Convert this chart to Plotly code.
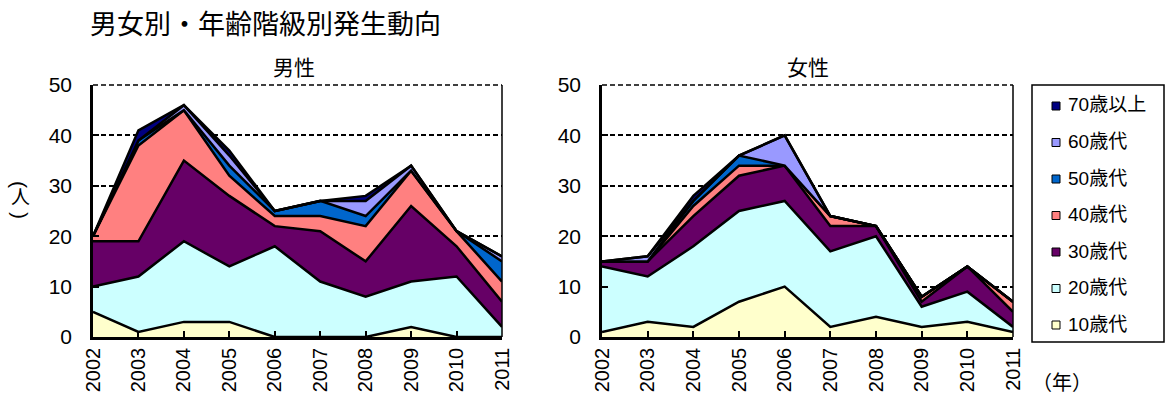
import plotly.graph_objects as go

years = ["2002", "2003", "2004", "2005", "2006", "2007", "2008", "2009", "2010", "2011"]
age_groups = ["10歳代", "20歳代", "30歳代", "40歳代", "50歳代", "60歳代", "70歳以上"]
colors = ["#FFFFCC", "#CCFFFF", "#660066", "#FF8080", "#0066CC", "#9999FF", "#000080"]

male_10s = [5, 1, 3, 3, 0, 0, 0, 2, 0, 0]
male_20s = [5, 11, 16, 11, 18, 11, 8, 9, 12, 2]
male_30s = [9, 7, 16, 14, 4, 10, 7, 15, 6, 5]
male_40s = [1, 19, 10, 4, 2, 3, 7, 7, 3, 4]
male_50s = [0, 1, 0, 2, 1, 3, 2, 0, 0, 4]
male_60s = [0, 0, 1, 2, 0, 0, 3, 1, 0, 1]
male_70s = [0, 2, 0, 1, 0, 0, 1, 0, 0, 0]

female_10s = [1, 3, 2, 7, 10, 2, 4, 2, 3, 1]
female_20s = [13, 9, 16, 18, 17, 15, 16, 4, 6, 1]
female_30s = [1, 3, 6, 7, 7, 5, 2, 1, 5, 3]
female_40s = [0, 0, 2, 2, 0, 2, 0, 1, 0, 2]
female_50s = [0, 0, 1, 2, 0, 0, 0, 0, 0, 0]
female_60s = [0, 1, 0, 0, 6, 0, 0, 0, 0, 0]
female_70s = [0, 0, 1, 0, 0, 0, 0, 0, 0, 0]

male = [male_10s, male_20s, male_30s, male_40s, male_50s, male_60s, male_70s]
female = [female_10s, female_20s, female_30s, female_40s, female_50s, female_60s, female_70s]

FONT = "Arial, Liberation Sans, Noto Sans CJK JP"
W, H = 1166, 398

fig = go.Figure()
for i, (name, col) in enumerate(zip(age_groups, colors)):
    fig.add_trace(go.Scatter(
        x=years, y=male[i], name=name, mode="lines", stackgroup="m",
        line=dict(color="black", width=2.5), fillcolor=col,
        showlegend=False, xaxis="x", yaxis="y", hoverinfo="x+y+name"))
    fig.add_trace(go.Scatter(
        x=years, y=female[i], name=name, mode="lines", stackgroup="f",
        line=dict(color="black", width=2.5), fillcolor=col,
        showlegend=False, xaxis="x2", yaxis="y2", hoverinfo="x+y+name"))

ydom = [(H - 337) / H, (H - 85) / H]

xcommon = dict(
    type="category", tickangle=-90, showgrid=False, range=[0, 9],
    showline=True, linecolor="black", linewidth=2.5, mirror=False,
    ticks="inside", ticklen=6, tickcolor="black", tickwidth=1.5,
    tickfont=dict(family=FONT, size=20, color="black"),
    ticklabelstandoff=0, automargin=False,
)
ycommon = dict(
    range=[0, 50], dtick=10, showgrid=True,
    gridcolor="black", griddash="5px,3px", gridwidth=1.5, zeroline=False,
    showline=True, linecolor="black", linewidth=2.5, mirror=False,
    ticks="inside", ticklen=6, tickcolor="black", tickwidth=1.5,
    tickfont=dict(family=FONT, size=21, color="black"),
    ticklabelstandoff=14, automargin=False,
)

shapes = []
for xr, yr in [("x domain", "y domain"), ("x2 domain", "y2 domain")]:
    shapes.append(dict(type="line", xref=xr, yref=yr, x0=1, x1=1, y0=0, y1=1,
                       line=dict(color="black", width=1.5)))
    shapes.append(dict(type="line", xref=xr, yref=yr, x0=0, x1=1, y0=1, y1=1,
                       line=dict(color="black", width=1.5, dash="5px,3px")))
shapes.append(dict(type="rect", xref="paper", yref="paper",
                   x0=1032 / W, x1=1164 / W, y0=(H - 342) / H, y1=(H - 85) / H,
                   line=dict(color="black", width=1.5), fillcolor="white"))

annotations = [
    dict(text="男女別・年齢階級別発生動向", x=88 / W, y=(H - 25) / H,
         xref="paper", yref="paper", xanchor="left", yanchor="middle",
         showarrow=False, font=dict(family=FONT, size=27)),
    dict(text="男性", x=294 / W, y=(H - 67) / H, xref="paper", yref="paper",
         xanchor="center", yanchor="middle", showarrow=False,
         font=dict(family=FONT, size=21)),
    dict(text="女性", x=808 / W, y=(H - 67) / H, xref="paper", yref="paper",
         xanchor="center", yanchor="middle", showarrow=False,
         font=dict(family=FONT, size=21)),
    dict(text="(", x=20 / W, y=(H - 184) / H, xref="paper", yref="paper",
         xanchor="center", yanchor="middle", showarrow=False, textangle=90,
         font=dict(family=FONT, size=21)),
    dict(text="人", x=20 / W, y=(H - 197) / H, xref="paper", yref="paper",
         xanchor="center", yanchor="middle", showarrow=False,
         font=dict(family=FONT, size=19)),
    dict(text=")", x=20 / W, y=(H - 215) / H, xref="paper", yref="paper",
         xanchor="center", yanchor="middle", showarrow=False, textangle=90,
         font=dict(family=FONT, size=21)),
    dict(text="（年）", x=1062 / W, y=(H - 383) / H, xref="paper", yref="paper",
         xanchor="center", yanchor="middle", showarrow=False,
         font=dict(family=FONT, size=20)),
]

for k, idx in enumerate(range(len(age_groups) - 1, -1, -1)):
    yc = 105 + k * 36.5
    shapes.append(dict(type="rect", xref="paper", yref="paper",
                       x0=1052 / W, x1=1060 / W, y0=(H - yc - 5) / H, y1=(H - yc + 3) / H,
                       line=dict(color="black", width=1), fillcolor=colors[idx]))
    annotations.append(dict(text=age_groups[idx], x=1066 / W, y=(H - yc) / H,
                            xref="paper", yref="paper", xanchor="left", yanchor="middle",
                            showarrow=False, font=dict(family=FONT, size=19)))

fig.update_layout(
    width=W, height=H,
    margin=dict(l=0, r=0, t=0, b=0),
    paper_bgcolor="white", plot_bgcolor="white",
    font=dict(family=FONT, color="black"),
    xaxis=dict(xcommon, domain=[93 / W, 502 / W], anchor="y"),
    yaxis=dict(ycommon, domain=ydom, anchor="x"),
    xaxis2=dict(xcommon, domain=[602 / W, 1013 / W], anchor="y2"),
    yaxis2=dict(ycommon, domain=ydom, anchor="x2"),
    showlegend=False,
    shapes=shapes,
    annotations=annotations,
)

fig.write_html("out.html", config={"displayModeBar": False},
               post_script="document.body.style.margin='0';document.body.style.overflow='hidden';")
